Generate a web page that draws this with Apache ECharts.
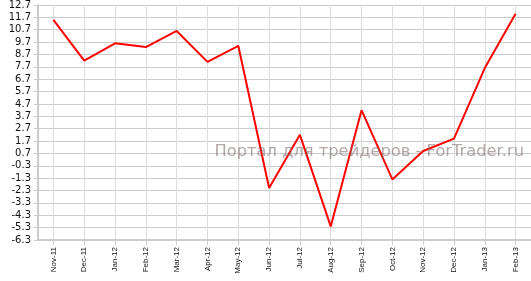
<!DOCTYPE html>
<html>
<head>
<meta charset="utf-8">
<script src="https://cdn.jsdelivr.net/npm/echarts@6/dist/echarts.min.js"></script>
<style>html,body{margin:0;padding:0;background:#fff}#c{width:531px;height:281px}</style>
</head>
<body>
<div id="c"></div>
<script>
var categories = ["Nov-11","Dec-11","Jan-12","Feb-12","Mar-12","Apr-12","May-12","Jun-12","Jul-12","Aug-12","Sep-12","Oct-12","Nov-12","Dec-12","Jan-13","Feb-13"];
var values = [11.5, 8.2, 9.6, 9.3, 10.6, 8.1, 9.4, -2.1, 2.2, -5.2, 4.2, -1.4, 0.9, 1.9, 7.6, 12.0];
var yMin = -6.3, yMax = 12.7, yStep = 1;
var watermark = "Портал для трейдеров - ForTrader.ru";

var chart = echarts.init(document.getElementById('c'), null, {renderer: 'canvas'});
chart.setOption({
  animation: false,
  backgroundColor: '#fff',
  grid: {left: 38, right: -10.5, top: 5, bottom: 41, containLabel: false},
  xAxis: {
    type: 'category',
    data: categories,
    boundaryGap: true,
    axisLine: {show: true, onZero: false, lineStyle: {color: '#cccccc', width: 2}},
    axisTick: {show: true, alignWithLabel: true, length: 5, lineStyle: {color: '#cccccc'}},
    splitLine: {show: true, alignWithLabel: true, lineStyle: {color: '#dcdcdc', width: 1}},
    axisLabel: {rotate: 90, margin: 7, fontFamily: 'Liberation Sans', fontSize: 8, color: '#111'}
  },
  yAxis: {
    type: 'value',
    min: yMin, max: yMax, interval: yStep,
    axisLine: {show: true, onZero: false, lineStyle: {color: '#cccccc', width: 2}},
    axisTick: {show: true, length: 4, lineStyle: {color: '#cccccc'}},
    splitLine: {show: true, lineStyle: {color: '#cccccc', width: 1}},
    axisLabel: {margin: 7, fontFamily: 'DejaVu Sans', fontSize: 10, color: '#111',
      formatter: function (v) { return (Math.round(v * 10) / 10).toFixed(1); }}
  },
  graphic: [{
    type: 'text', right: 7, top: 144, z: 10,
    style: {text: watermark, fontFamily: 'DejaVu Sans', fontSize: 16.3, fill: 'rgba(130,112,112,0.6)'}
  }],
  series: [{
    type: 'line',
    data: values,
    symbol: 'none',
    lineStyle: {color: '#ff0000', width: 2},
    z: 5
  }]
});
</script>
</body>
</html>
